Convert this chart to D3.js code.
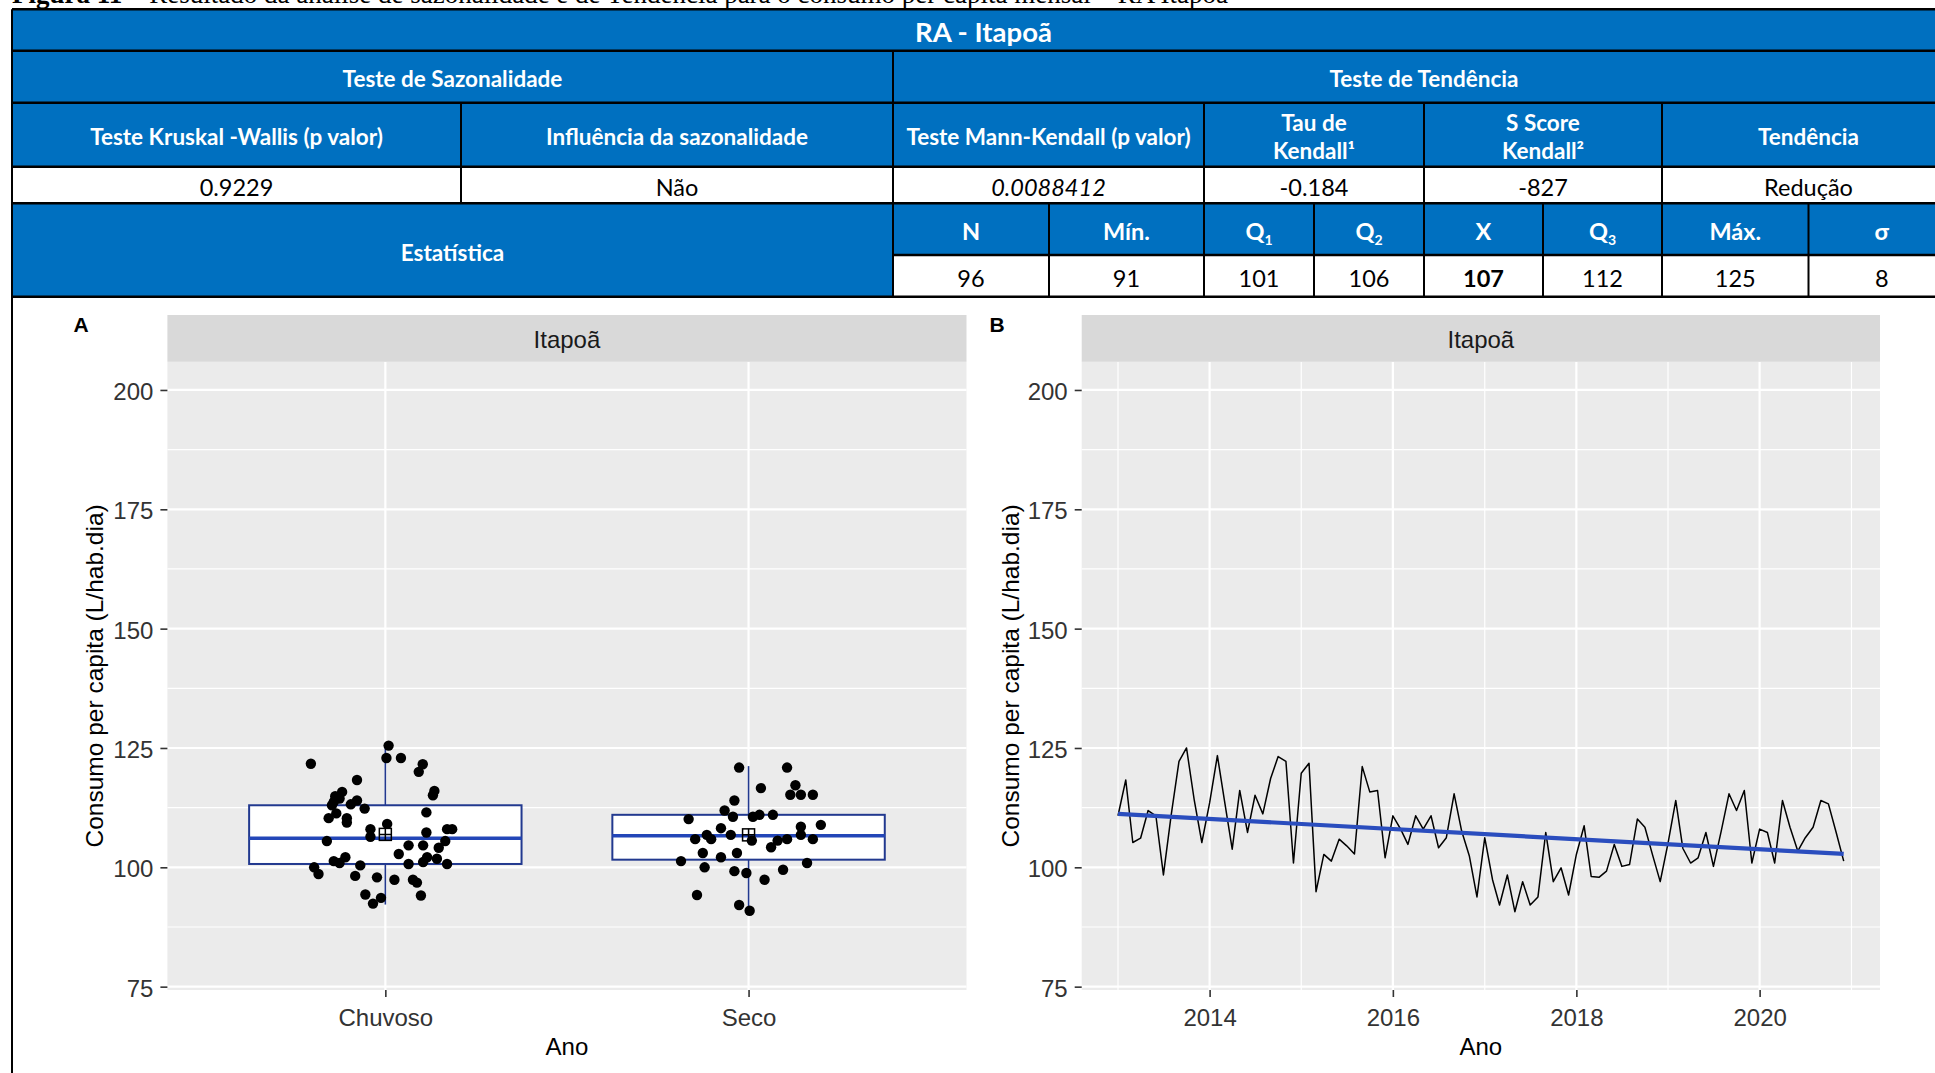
<!DOCTYPE html>
<html>
<head>
<meta charset="utf-8">
<script src="https://cdn.jsdelivr.net/npm/d3@7"></script>
<style>
  body { margin: 0; background: #fff; overflow: hidden; }
  svg { display: block; }
</style>
</head>
<body>
<svg id="fig" width="1935" height="1073"></svg>
<script>
// ---------- data ----------
const caption = ["Figura 11", " – Resultado da análise de sazonalidade e de Tendência para o consumo per capita mensal – RA Itapoã"];
const tableTitle = "RA - Itapoã";
const groupHeaders = ["Teste de Sazonalidade", "Teste de Tendência"];
const seasonHeaders = [["Teste Kruskal -Wallis (p valor)"], ["Influência da sazonalidade"]];
const seasonValues = ["0.9229", "Não"];
const trendHeaders = [["Teste Mann-Kendall (p valor)"], ["Tau de", "Kendall¹"], ["S Score", "Kendall²"], ["Tendência"]];
const trendValues = ["0.0088412", "-0.184", "-827", "Redução"];
const statTitle = "Estatística";
const statLabels = [["N"], ["Mín."], ["Q", "1"], ["Q", "2"], ["X"], ["Q", "3"], ["Máx."], ["σ"]];
const statValues = ["96", "91", "101", "106", "107", "112", "125", "8"];

const region = "Itapoã";
const seasons = ["Chuvoso", "Seco"];
const yTicks = [75, 100, 125, 150, 175, 200];
const yMinor = [87.5, 112.5, 137.5, 162.5, 187.5];
const yLimits = [74.3, 205.9];

// jitter offsets (category units) and values of the points in panel A
const chuvosoJitter = [0.009, 0.003, 0.043, -0.205, 0.103, 0.092, -0.078, 0.135, 0.131, -0.119,
  -0.138, -0.126, -0.142, -0.078, -0.095, -0.147, -0.057, -0.135, -0.156, -0.106,
  -0.106, 0.113, 0.005, -0.041, -0.041, 0.170, 0.184, 0.113, 0.165, -0.161,
  0.064, 0.104, 0.147, 0.037, 0.115, 0.142, -0.110, -0.142, -0.126, 0.104,
  0.064, 0.170, -0.196, -0.069, -0.184, -0.083, -0.023, 0.025, 0.076, 0.087,
  -0.055, -0.012, 0.098, -0.034];
const chuvosoValues = [125.5, 122.9, 122.9, 121.7, 121.6, 120.0, 118.3, 116.0, 115.1, 115.8,
  114.9, 114.4, 113.7, 114.0, 113.2, 113.0, 112.3, 111.3, 110.3, 110.3,
  109.4, 111.5, 109.1, 108.0, 106.4, 108.0, 108.0, 107.3, 105.5, 105.5,
  104.6, 104.6, 104.1, 102.8, 102.1, 101.8, 102.1, 101.3, 100.9, 101.1,
  100.7, 100.7, 100.0, 100.4, 98.6, 98.2, 97.9, 97.4, 97.4, 96.8,
  94.3, 93.6, 94.1, 92.4];
const secoJitter = [-0.026, 0.106, 0.129, 0.034, 0.115, 0.144, 0.177, -0.039, -0.066, -0.043,
  0.012, 0.030, 0.067, -0.165, -0.076, 0.144, 0.199, -0.115, -0.103, -0.147,
  -0.049, 0.009, 0.080, 0.106, 0.144, 0.177, 0.062, -0.126, -0.076, -0.032,
  -0.186, -0.121, 0.161, -0.039, -0.006, 0.095, 0.044, -0.142, -0.026, 0.003];
const secoValues = [120.9, 120.9, 117.2, 116.6, 115.2, 115.2, 115.2, 114.0, 111.9, 110.6,
  110.6, 111.0, 111.0, 110.1, 108.2, 108.5, 108.9, 106.8, 105.9, 105.9,
  106.8, 105.6, 105.6, 105.9, 106.8, 105.9, 104.2, 103.0, 102.1, 103.0,
  101.3, 100.0, 100.9, 99.2, 98.8, 99.5, 97.4, 94.2, 92.1, 90.9];

// box statistics: lower whisker, Q1, median, Q3, upper whisker, mean
const boxLow = [92.2, 90.6];
const boxQ1 = [100.7, 101.6];
const boxMedian = [106.1, 106.6];
const boxQ3 = [113.0, 111.0];
const boxHigh = [125.7, 121.2];
const boxMean = [106.9, 106.8];

// monthly series Jan 2013 .. Dec 2020
const startYear = 2013;
const monthly = [110.8, 118.3, 105.2, 106.1, 111.9, 110.8, 98.4, 111.0, 122.2, 125.0, 114.0, 105.2,
  113.5, 123.4, 114.0, 103.8, 116.1, 107.3, 115.1, 111.2, 118.6, 123.2, 122.2, 100.9,
  119.7, 121.8, 94.9, 102.7, 101.3, 105.9, 104.5, 102.8, 121.1, 115.8, 116.1, 102.0,
  110.8, 108.0, 104.8, 110.8, 108.0, 110.8, 104.1, 106.2, 115.4, 107.6, 102.3, 93.8,
  106.2, 97.4, 92.1, 98.4, 90.7, 97.0, 92.1, 93.8, 107.3, 97.0, 99.9, 94.2,
  102.7, 108.7, 98.1, 97.9, 99.2, 104.8, 100.2, 100.6, 110.1, 108.4, 102.5, 97.0,
  105.0, 114.0, 104.0, 100.9, 102.0, 107.3, 100.2, 107.6, 115.4, 111.9, 116.1, 100.9,
  108.0, 107.3, 100.9, 114.0, 108.4, 103.4, 106.2, 108.4, 114.0, 113.3, 107.3, 101.3];
const trendEnds = [111.2, 102.8];
const yearMajor = [2014, 2016, 2018, 2020];
const yearMinor = [2013, 2015, 2017, 2019, 2021];

// ---------- layout ----------
const svg = d3.select("#fig");
const blue = "#0070C0";
const tFont = "Lato, 'Open Sans', sans-serif";
const cFont = "'Liberation Sans', Arial, sans-serif";

const rows = [9.3, 50.7, 102.7, 166.7, 203.3, 255, 296.7];
const tLeft = 12, tRight = 1955, tMid = 893;
const topCols = [12, 461, 893, 1204, 1424, 1662, 1955];
const statCols = [893, 1049, 1204, 1314, 1424, 1543, 1662, 1808.5, 1955];

// caption (cut by the top edge, as in the source page)
const cap = svg.append("text").attr("x", 12).attr("y", 3)
  .attr("font-family", "'Liberation Serif', 'Times New Roman', serif").attr("font-size", 27);
cap.append("tspan").attr("font-weight", "bold").text(caption[0]);
cap.append("tspan").text(caption[1]);

// ---------- table ----------
function rect(x0, y0, x1, y1, fill) {
  svg.append("rect").attr("x", x0).attr("y", y0).attr("width", x1 - x0).attr("height", y1 - y0).attr("fill", fill);
}
function line(x0, y0, x1, y1, w) {
  svg.append("line").attr("x1", x0).attr("y1", y0).attr("x2", x1).attr("y2", y1)
    .attr("stroke", "#000").attr("stroke-width", w || 2);
}
function label(x, yc, lines, opt) {
  const fs = opt.size, lh = opt.lh || fs * 1.25;
  const t = svg.append("text").attr("text-anchor", "middle").attr("font-family", tFont)
    .attr("font-size", fs).attr("fill", opt.color || "#000")
    .attr("font-weight", opt.bold ? "bold" : "normal")
    .attr("font-style", opt.italic ? "italic" : "normal");
  lines.forEach((s, i) => {
    t.append("tspan").attr("x", x)
      .attr("y", yc + fs * 0.36 + 2.5 + (i - (lines.length - 1) / 2) * lh).text(s);
  });
  return t;
}

rect(tLeft, rows[0], tRight, rows[3], blue);
rect(tLeft, rows[3], tRight, rows[4], "#fff");
rect(tLeft, rows[4], tRight, rows[5], blue);
rect(tLeft, rows[4], tMid, rows[6], blue);
rect(tMid, rows[5], tRight, rows[6], "#fff");

[0, 1, 2, 3, 4, 6].forEach(i => line(tLeft, rows[i], tRight, rows[i], 2.6));
line(tMid, rows[5], tRight, rows[5], 2.6);
line(tLeft, rows[0], tLeft, 1073, 2);
line(tMid, rows[1], tMid, rows[6], 2);
topCols.slice(1, -1).forEach(x => line(x, rows[2], x, rows[4], 2));
statCols.slice(1, -1).forEach(x => line(x, rows[4], x, rows[6], 2));

const mid = (a, b) => (a + b) / 2;
label(mid(tLeft, tRight), mid(rows[0], rows[1]), [tableTitle], { size: 27.5, bold: true, color: "#fff" });
label(mid(tLeft, tMid), mid(rows[1], rows[2]), [groupHeaders[0]], { size: 22.5, bold: true, color: "#fff" });
label(mid(tMid, tRight), mid(rows[1], rows[2]), [groupHeaders[1]], { size: 22.5, bold: true, color: "#fff" });

const headers = seasonHeaders.concat(trendHeaders);
const values = seasonValues.concat(trendValues);
headers.forEach((h, i) => {
  const xc = mid(topCols[i], topCols[i + 1]);
  label(xc, mid(rows[2], rows[3]), h, { size: 22.5, bold: true, color: "#fff", lh: 28 });
  label(xc, mid(rows[3], rows[4]), [values[i]], { size: 23.5, italic: i === 2 });
});

label(mid(tLeft, tMid), mid(rows[4], rows[6]), [statTitle], { size: 22.5, bold: true, color: "#fff" });
statLabels.forEach((s, i) => {
  const xc = mid(statCols[i], statCols[i + 1]);
  const t = label(xc, mid(rows[4], rows[5]), [s[0]], { size: 23.5, bold: true, color: "#fff" });
  if (s[1]) t.select("tspan").append("tspan").attr("font-size", 14).attr("dy", 5).text(s[1]);
  label(xc, mid(rows[5], rows[6]), [statValues[i]], { size: 23.5, bold: s[0] === "X" });
});

// ---------- charts ----------
const panelTop = 361.8, panelBottom = 990, stripTop = 315;
const pA = { x0: 167.4, x1: 966.5, tag: "A", tagX: 81, titleX: 103 };
const pB = { x0: 1081.7, x1: 1880, tag: "B", tagX: 997, titleX: 1019 };

const y = d3.scaleLinear().domain(yLimits).range([panelBottom, panelTop]);

function frame(p, xMajor, xMinor, xScale) {
  const g = svg.append("g");
  g.append("rect").attr("x", p.x0).attr("y", panelTop).attr("width", p.x1 - p.x0)
    .attr("height", panelBottom - panelTop).attr("fill", "#EBEBEB");
  g.selectAll(".ymin").data(yMinor).join("line")
    .attr("x1", p.x0).attr("x2", p.x1).attr("y1", d => y(d)).attr("y2", d => y(d))
    .attr("stroke", "#fff").attr("stroke-width", 1.2);
  g.selectAll(".xmin").data(xMinor).join("line")
    .attr("x1", d => xScale(d)).attr("x2", d => xScale(d)).attr("y1", panelTop).attr("y2", panelBottom)
    .attr("stroke", "#fff").attr("stroke-width", 1.2);
  g.selectAll(".ymaj").data(yTicks).join("line")
    .attr("x1", p.x0).attr("x2", p.x1).attr("y1", d => y(d)).attr("y2", d => y(d))
    .attr("stroke", "#fff").attr("stroke-width", 2.2);
  g.selectAll(".xmaj").data(xMajor).join("line")
    .attr("x1", d => xScale(d)).attr("x2", d => xScale(d)).attr("y1", panelTop).attr("y2", panelBottom)
    .attr("stroke", "#fff").attr("stroke-width", 2.2);

  // strip
  g.append("rect").attr("x", p.x0).attr("y", stripTop).attr("width", p.x1 - p.x0)
    .attr("height", panelTop - stripTop).attr("fill", "#D9D9D9");
  g.append("text").attr("x", mid(p.x0, p.x1)).attr("y", 347.5).attr("text-anchor", "middle")
    .attr("font-family", cFont).attr("font-size", 24).attr("fill", "#1A1A1A").text(region);

  // axes
  const ay = g.append("g").attr("transform", `translate(${p.x0},0)`)
    .call(d3.axisLeft(y).tickValues(yTicks).tickSize(7).tickPadding(7));
  const ax = g.append("g").attr("transform", `translate(0,${panelBottom})`)
    .call(d3.axisBottom(xScale).tickValues(xMajor).tickSize(7).tickPadding(12)
      .tickFormat(d => d instanceof Date ? d.getFullYear() : d));
  [ay, ax].forEach(a => {
    a.select(".domain").remove();
    a.selectAll("line").attr("stroke", "#333").attr("stroke-width", 1.6);
    a.selectAll("text").attr("font-family", cFont).attr("font-size", 24).attr("fill", "#333");
  });
  ay.selectAll("text").attr("dy", "0.4em");

  g.append("text").attr("x", mid(p.x0, p.x1)).attr("y", 1055).attr("text-anchor", "middle")
    .attr("font-family", cFont).attr("font-size", 24).attr("fill", "#000").text("Ano");
  g.append("text").attr("transform", `translate(${p.titleX},${mid(panelTop, panelBottom)}) rotate(-90)`)
    .attr("text-anchor", "middle").attr("font-family", cFont).attr("font-size", 24.5)
    .attr("fill", "#000").text("Consumo per capita (L/hab.dia)");
  g.append("text").attr("x", p.tagX).attr("y", 332).attr("text-anchor", "middle")
    .attr("font-family", cFont).attr("font-weight", "bold").attr("font-size", 21).text(p.tag);
  return g;
}

// Panel A: boxplot with jittered points
const xA = d3.scalePoint().domain(seasons).range([pA.x0, pA.x1]).padding(0.6);
const gA = frame(pA, seasons, [], xA);
const step = xA.step(), bw = step * 0.75;
const boxes = seasons.map((s, i) => ({ s, lo: boxLow[i], q1: boxQ1[i], md: boxMedian[i], q3: boxQ3[i], hi: boxHigh[i], mean: boxMean[i] }));
const boxStroke = "#22398F";
boxes.forEach(b => {
  const cx = xA(b.s);
  gA.append("line").attr("x1", cx).attr("x2", cx).attr("y1", y(b.q3)).attr("y2", y(b.hi))
    .attr("stroke", boxStroke).attr("stroke-width", 1.6);
  gA.append("line").attr("x1", cx).attr("x2", cx).attr("y1", y(b.q1)).attr("y2", y(b.lo))
    .attr("stroke", boxStroke).attr("stroke-width", 1.6);
  gA.append("rect").attr("x", cx - bw / 2).attr("y", y(b.q3)).attr("width", bw)
    .attr("height", y(b.q1) - y(b.q3)).attr("fill", "#fff").attr("stroke", boxStroke).attr("stroke-width", 2);
  gA.append("line").attr("x1", cx - bw / 2).attr("x2", cx + bw / 2).attr("y1", y(b.md)).attr("y2", y(b.md))
    .attr("stroke", "#2346B8").attr("stroke-width", 3.6);
});
const ptsA = chuvosoValues.map((v, i) => ({ s: seasons[0], j: chuvosoJitter[i], v }))
  .concat(secoValues.map((v, i) => ({ s: seasons[1], j: secoJitter[i], v })));
gA.selectAll(".pt").data(ptsA).join("circle")
  .attr("cx", d => xA(d.s) + d.j * step).attr("cy", d => y(d.v)).attr("r", 5.2).attr("fill", "#000");
boxes.forEach(b => {
  const cx = xA(b.s), cy = y(b.mean), h = 6;
  gA.append("rect").attr("x", cx - h).attr("y", cy - h).attr("width", 2 * h).attr("height", 2 * h)
    .attr("fill", "none").attr("stroke", "#000").attr("stroke-width", 1.5);
  gA.append("path").attr("d", `M${cx - h},${cy}H${cx + h}M${cx},${cy - h}V${cy + h}`)
    .attr("stroke", "#000").attr("stroke-width", 1.5);
});

// Panel B: monthly series and trend
const dates = monthly.map((v, i) => new Date(startYear, i, 1));
const t0 = +dates[0], t1 = +dates[dates.length - 1], span = t1 - t0;
const xB = d3.scaleTime().domain([new Date(t0 - 0.05 * span), new Date(t1 + 0.05 * span)]).range([pB.x0, pB.x1]);
const gB = frame(pB, yearMajor.map(yr => new Date(yr, 0, 1)), yearMinor.map(yr => new Date(yr, 0, 1)), xB);
gB.append("path").datum(monthly)
  .attr("d", d3.line().x((v, i) => xB(dates[i])).y(v => y(v)))
  .attr("fill", "none").attr("stroke", "#000").attr("stroke-width", 1.5).attr("stroke-linejoin", "round");
gB.append("path").datum(trendEnds)
  .attr("d", d3.line().x((v, i) => xB(i === 0 ? dates[0] : dates[dates.length - 1])).y(v => y(v)))
  .attr("stroke", "#2A4DBE").attr("stroke-width", 4.2).attr("fill", "none");
</script>
</body>
</html>
